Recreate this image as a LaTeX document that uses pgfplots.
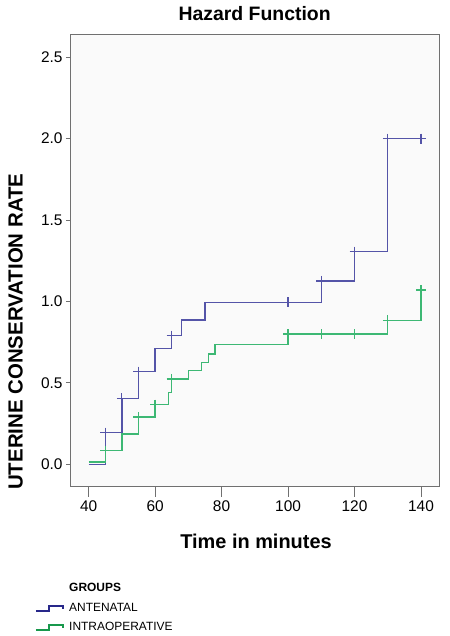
\documentclass[border=0pt]{standalone}
\usepackage{fontspec}
\setmainfont{Liberation Sans}
\usepackage{pgfplots}
\pgfplotsset{compat=1.18}
\definecolor{ante}{HTML}{5454A8}
\definecolor{intra}{HTML}{3DB874}
\definecolor{antedark}{HTML}{28288A}
\definecolor{intradark}{HTML}{18984C}
\definecolor{axgray}{HTML}{707070}
\begin{document}
\begin{tikzpicture}[x=1bp,y=1bp]
\path[use as bounding box] (-70,-149.3) rectangle (380,486.7);
\pgfplotsset{
  common/.style={
    at={(0,0)}, anchor=south west, scale only axis,
    width=369.3bp, height=452.2bp,
    xmin=34.4, xmax=145.5, ymin=-0.1376, ymax=2.64,
    xtick={40,60,80,100,120,140},
    ytick={0,0.5,1,1.5,2,2.5},
    tick align=outside,
    axis line style={axgray, line width=0.9bp},
    tick style={axgray, line width=0.9bp},
    /pgf/number format/assume math mode=true,
    tick label style={font=\fontsize{15.5}{18}\selectfont},
  }
}
\begin{axis}[common,
    axis background/.style={fill=black!2},
    major tick length=4bp,
    xtick style={draw=none},
    xtick pos=left, ytick pos=left,
    xticklabel style={yshift=-6bp},
    yticklabel style={/pgf/number format/.cd, fixed, fixed zerofill, precision=1, assume math mode=true},
    clip=false]
% Antenatal
\addplot[const plot, ante, line width=1.3bp] coordinates {
(40,0) (45,0.194) (50,0.405) (55,0.569) (60,0.71) (65,0.79) (68,0.886)
(75,0.995) (100,0.995) (110,1.126) (120,1.306) (130,2.0) (140,2.0)};
\addplot[only marks, mark=+, mark size=5bp, ante, mark options={line width=1.2bp}] coordinates {
(45,0.194) (50,0.405) (55,0.569) (65,0.79) (100,0.995) (110,1.126) (120,1.306) (130,2.0) (140,2.0)};
% Intraoperative
\addplot[const plot, intra, line width=1.3bp] coordinates {
(40,0.015) (45,0.083) (50,0.186) (55,0.29) (60,0.366) (64,0.44) (65,0.524)
(70,0.575) (74,0.625) (76,0.678) (78,0.737) (100,0.80) (130,0.885) (140,1.07)};
\addplot[only marks, mark=+, mark size=5bp, intra, mark options={line width=1.2bp}] coordinates {
(45,0.083) (55,0.29) (60,0.366) (65,0.524) (100,0.80) (110,0.80) (120,0.80) (130,0.885) (140,1.07)};
\end{axis}
\begin{axis}[common, hide y axis, axis line style={draw=none},
    xtick pos=left, major tick length=10bp, xticklabels={}]
\end{axis}
% titles
\node[anchor=base, font=\bfseries\fontsize{19.5}{22}\selectfont] at (184.65,466) {Hazard Function};
\node[anchor=base, font=\bfseries\fontsize{20}{24}\selectfont] at (186,-61.6) {Time in minutes};
\node[anchor=base, rotate=90, font=\bfseries\fontsize{20.5}{24}\selectfont] at (-47.3,155) {UTERINE CONSERVATION RATE};
% legend
\node[anchor=base west, inner sep=0pt, font=\bfseries\fontsize{12}{14}\selectfont] at (-1,-105) {GROUPS};
\node[anchor=base west, inner sep=0pt, font=\fontsize{12}{14}\selectfont] at (-1,-125) {ANTENATAL};
\node[anchor=base west, inner sep=0pt, font=\fontsize{12}{14}\selectfont] at (-1,-144) {INTRAOPERATIVE};
\draw[antedark, line width=1.8bp] (-34,-124.5) -- (-20.7,-124.5) -- (-20.7,-119.3) -- (-6.7,-119.3) -- (-6.7,-122.5);
\draw[intradark, line width=1.8bp] (-34,-143.5) -- (-20.7,-143.5) -- (-20.7,-138.3) -- (-6.7,-138.3) -- (-6.7,-141.5);
\end{tikzpicture}
\end{document}
